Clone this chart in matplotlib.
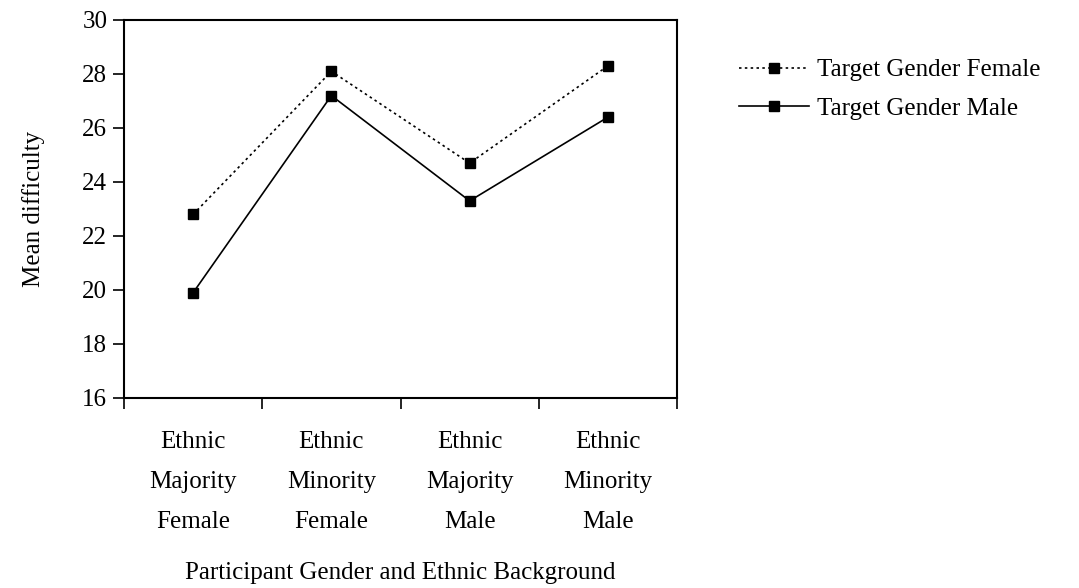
import numpy as np
import matplotlib.pyplot as plt

categories = ["Ethnic\nMajority\nFemale", "Ethnic\nMinority\nFemale",
              "Ethnic\nMajority\nMale", "Ethnic\nMinority\nMale"]
female = [22.8, 28.1, 24.7, 28.3]
male = [19.9, 27.2, 23.3, 26.4]

plt.rcParams['font.family'] = ['Liberation Serif', 'DejaVu Serif']
fs = 18

fig = plt.figure(figsize=(10.79, 5.88), dpi=100)
ax = fig.add_axes([124/1079, 1 - 398/588, (677-124)/1079, (398-20)/588])

x = np.arange(len(categories))
ax.plot(x, female, color='black', ls=(0, (1.5, 2)), lw=1.2, marker='s', ms=7,
        label='Target Gender Female')
ax.plot(x, male, color='black', ls='-', lw=1.2, marker='s', ms=7,
        label='Target Gender Male')

ax.set_xlim(-0.5, 3.5)
ax.set_ylim(16, 30)
ax.set_yticks(np.arange(16, 31, 2))
ax.set_xticks(np.arange(-0.5, 3.6, 1))
ax.set_xticklabels([])
ax.set_xticks(x, minor=True)
ax.set_xticklabels(categories, minor=True, fontsize=fs, linespacing=2.05)
ax.tick_params(axis='x', which='minor', length=0, pad=24)
ax.tick_params(axis='x', which='major', direction='out', length=8, width=1.2)
ax.tick_params(axis='y', direction='out', length=8, width=1.2, labelsize=fs, pad=4)
for s in ax.spines.values():
    s.set_linewidth(1.5)

ax.set_ylabel('Mean difficulty', fontsize=fs, labelpad=27)
ax.set_xlabel('Participant Gender and Ethnic Background', fontsize=fs, labelpad=21)

ax.legend(loc='upper left', bbox_to_anchor=(1.113, 0.897), frameon=False, fontsize=fs,
          handlelength=2.8, handletextpad=0.3, labelspacing=0.65, borderaxespad=0.0,
          borderpad=0.0)

fig.savefig('out.png', dpi=100)
